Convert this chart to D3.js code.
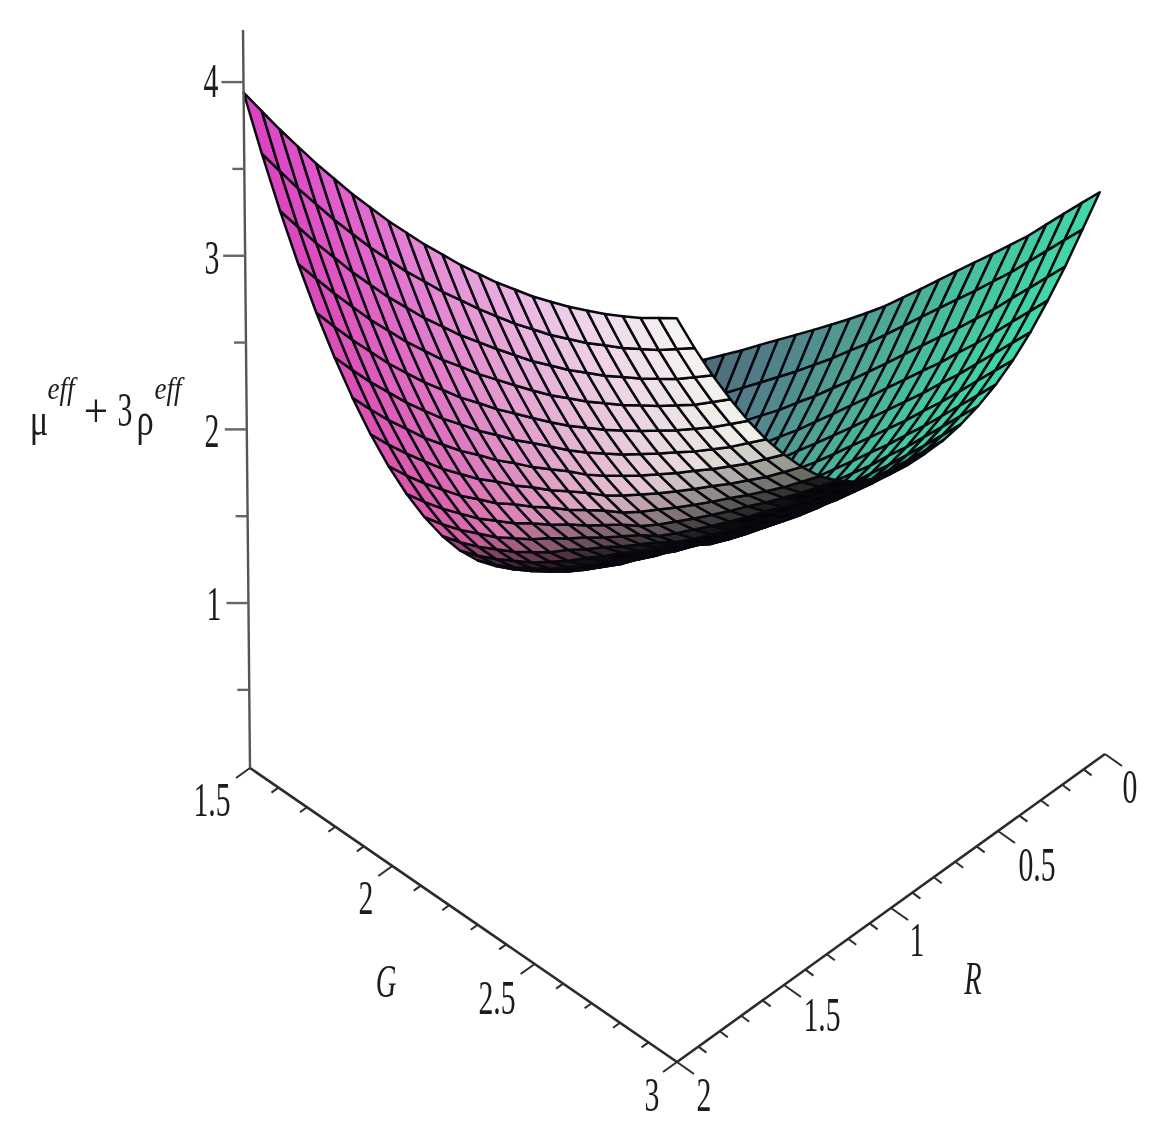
<!DOCTYPE html>
<html><head><meta charset="utf-8">
<script src="https://cdn.jsdelivr.net/npm/d3@7"></script>
<style>html,body{margin:0;background:#fff}svg{display:block;filter:blur(.55px)}text{font-family:"Liberation Serif",serif;fill:#1c1c1c}</style>
</head><body><svg id="c" width="1164" height="1148"></svg>
<script>
// Axis ranges and tick labels
const gDomain=[1.5,3], rDomain=[2,0], zDomain=[0.05,4.3];
const gMajor=[1.5,2,2.5,3], rMajor=[2,1.5,1,0.5,0], zMajor=[1,2,3,4], zMinor=[0.5,1.5,2.5,3.5];
const gMinor=[1.6,1.7,1.8,1.9,2.1,2.2,2.3,2.4,2.6,2.7,2.8,2.9];
const rMinor=[1.9,1.8,1.7,1.6,1.4,1.3,1.2,1.1,0.9,0.8,0.7,0.6,0.4,0.3,0.2,0.1];
// Surface heights: rows G = 1.5..3 (25 lines), columns R = 0..2 (25 lines)
const surfaceZ=[
[.867,.941,1.015,1.100,1.186,1.281,1.376,1.479,1.583,1.697,1.811,1.935,2.060,2.193,2.326,2.467,2.609,2.760,2.912,3.074,3.236,3.407,3.579,3.759,3.939],
[.765,.834,.902,.982,1.061,1.151,1.238,1.335,1.432,1.539,1.645,1.761,1.878,2.002,2.124,2.257,2.388,2.531,2.674,2.828,2.982,3.146,3.311,3.484,3.658],
[.679,.742,.806,.881,.956,1.039,1.120,1.211,1.301,1.400,1.499,1.608,1.717,1.831,1.944,2.068,2.190,2.325,2.459,2.605,2.751,2.909,3.066,3.233,3.399],
[.611,.669,.728,.798,.868,.946,1.022,1.106,1.190,1.282,1.374,1.475,1.579,1.685,1.791,1.908,2.021,2.147,2.272,2.410,2.547,2.696,2.846,3.005,3.164],
[.558,.613,.668,.734,.799,.872,.943,1.020,1.098,1.183,1.269,1.363,1.461,1.561,1.660,1.769,1.874,1.992,2.109,2.237,2.366,2.508,2.649,2.800,2.954],
[.522,.574,.626,.687,.748,.817,.883,.954,1.026,1.105,1.185,1.272,1.367,1.461,1.553,1.655,1.754,1.864,1.971,2.090,2.211,2.344,2.477,2.620,2.768],
[.505,.553,.601,.659,.717,.781,.842,.909,.975,1.048,1.121,1.202,1.295,1.381,1.467,1.564,1.655,1.758,1.856,1.967,2.079,2.204,2.329,2.464,2.605],
[.504,.549,.594,.649,.703,.764,.820,.881,.943,1.010,1.078,1.153,1.242,1.324,1.404,1.496,1.580,1.676,1.765,1.867,1.971,2.088,2.206,2.332,2.466],
[.521,.563,.606,.657,.709,.765,.818,.874,.932,.994,1.056,1.125,1.211,1.287,1.363,1.449,1.527,1.616,1.696,1.792,1.887,1.996,2.106,2.225,2.353],
[.567,.605,.644,.689,.736,.788,.835,.887,.939,.996,1.053,1.118,1.201,1.272,1.343,1.424,1.495,1.577,1.651,1.739,1.826,1.928,2.031,2.143,2.264],
[.630,.665,.699,.740,.782,.828,.871,.919,.967,1.020,1.073,1.131,1.211,1.277,1.344,1.419,1.486,1.562,1.629,1.709,1.789,1.884,1.979,2.085,2.201],
[.716,.746,.775,.811,.847,.889,.926,.970,1.015,1.063,1.112,1.166,1.241,1.302,1.363,1.433,1.494,1.565,1.625,1.700,1.775,1.864,1.953,2.052,2.162],
[.820,.845,.870,.901,.931,.968,1.000,1.041,1.082,1.126,1.171,1.221,1.292,1.348,1.405,1.470,1.525,1.590,1.646,1.715,1.784,1.868,1.952,2.045,2.149],
[.939,.960,.981,1.007,1.033,1.067,1.094,1.132,1.170,1.211,1.251,1.297,1.363,1.415,1.466,1.526,1.576,1.637,1.689,1.753,1.818,1.896,1.976,2.064,2.162],
[1.076,1.093,1.111,1.132,1.154,1.183,1.207,1.243,1.278,1.315,1.352,1.394,1.454,1.501,1.547,1.603,1.649,1.705,1.753,1.813,1.874,1.948,2.024,2.108,2.201],
[1.220,1.235,1.251,1.271,1.291,1.318,1.340,1.373,1.404,1.439,1.473,1.513,1.566,1.609,1.650,1.700,1.741,1.794,1.839,1.897,1.954,2.025,2.097,2.177,2.265],
[1.382,1.396,1.411,1.429,1.446,1.471,1.491,1.521,1.552,1.584,1.616,1.651,1.698,1.737,1.773,1.819,1.857,1.907,1.950,2.005,2.060,2.128,2.197,2.274,2.357],
[1.559,1.574,1.588,1.604,1.619,1.644,1.662,1.691,1.719,1.749,1.778,1.811,1.852,1.887,1.919,1.962,1.997,2.044,2.085,2.138,2.191,2.257,2.322,2.396,2.474],
[1.752,1.766,1.780,1.795,1.810,1.833,1.852,1.879,1.905,1.933,1.960,1.991,2.029,2.061,2.091,2.130,2.163,2.207,2.248,2.298,2.349,2.412,2.474,2.545,2.619],
[1.964,1.979,1.993,2.006,2.020,2.043,2.061,2.087,2.112,2.138,2.164,2.193,2.226,2.256,2.284,2.321,2.353,2.396,2.436,2.484,2.533,2.593,2.652,2.720,2.790],
[2.196,2.209,2.223,2.237,2.250,2.272,2.290,2.314,2.339,2.364,2.388,2.416,2.444,2.474,2.501,2.537,2.567,2.609,2.649,2.696,2.743,2.800,2.857,2.922,2.989],
[2.449,2.461,2.474,2.486,2.498,2.519,2.536,2.562,2.586,2.610,2.633,2.659,2.684,2.712,2.738,2.773,2.805,2.846,2.887,2.933,2.978,3.034,3.089,3.152,3.214],
[2.715,2.728,2.740,2.753,2.764,2.784,2.803,2.828,2.852,2.875,2.898,2.923,2.947,2.976,3.004,3.040,3.072,3.114,3.155,3.199,3.243,3.296,3.348,3.409,3.468],
[2.999,3.013,3.025,3.037,3.048,3.070,3.090,3.115,3.139,3.162,3.184,3.207,3.231,3.263,3.292,3.329,3.365,3.407,3.449,3.492,3.535,3.585,3.635,3.692,3.750],
[3.285,3.298,3.310,3.320,3.330,3.352,3.373,3.398,3.422,3.445,3.468,3.492,3.517,3.552,3.590,3.632,3.675,3.720,3.765,3.810,3.853,3.901,3.949,4.004,4.058]
];

const svg=d3.select("#c");
// Oblique projection built from linear scales: each data axis contributes an x and y offset
const gx=d3.scaleLinear().domain(gDomain).range([0,427]), gy=d3.scaleLinear().domain(gDomain).range([0,294]);
const rx=d3.scaleLinear().domain(rDomain).range([0,428]), ry=d3.scaleLinear().domain(rDomain).range([0,-308]);
const zx=d3.scaleLinear().domain(zDomain).range([0,-7]),  zy=d3.scaleLinear().domain(zDomain).range([0,-738]);
const P=(g,r,z)=>[250+gx(g)+rx(r)+zx(z), 768+gy(g)+ry(r)+zy(z)];
const gIdx=d3.scaleLinear().domain([0,surfaceZ.length-1]).range(gDomain);
const rIdx=d3.scaleLinear().domain([0,surfaceZ[0].length-1]).range([0,2]);

// Colours
const magTop=d3.scaleLinear().domain([0,.5,1,1.5,2]).range(["#f8f5f3","#efcfe9","#e79adb","#e264d0","#dc3fc4"]).interpolate(d3.interpolateRgb);
const magLow=d3.scaleLinear().domain([0,.5,1,1.5,2]).range(["#e2eed2","#e0e0cc","#dcc0bc","#da8cac","#da5ca0"]).interpolate(d3.interpolateRgb);
const tealTop=d3.scaleLinear().domain([0,.5,1,1.5,2]).range(["#3fd8a6","#46c4a0","#4fa596","#51808a","#4f5f6c"]).interpolate(d3.interpolateRgb);
const prog=d3.scaleLinear().domain([1.5,2.25]).range([0,1]).clamp(true);
const shade=d3.scaleLinear().domain([3,18]).range([.02,1]).clamp(true);

// Surface cells, painted far (large G) to near
const cells=[];
for(let i=surfaceZ.length-2;i>=0;i--)for(let j=surfaceZ[0].length-2;j>=0;j--){
  const q=[[i,j],[i,j+1],[i+1,j+1],[i+1,j]].map(([a,b])=>P(gIdx(a),rIdx(b),surfaceZ[a][b]));
  const dy=((q[3][1]-q[0][1])+(q[2][1]-q[1][1]))/2;
  const R=rIdx(j+.5),G=gIdx(i+.5);
  const base=dy>0?d3.interpolateRgb(magTop(R),magLow(R))(prog(G)):tealTop(R);
  cells.push({q,fill:d3.interpolateRgb("#000",base)(shade(Math.abs(dy)))});
}
svg.append("g").selectAll("path").data(cells).join("path")
  .attr("d",d=>d3.line()(d.q)+"Z").attr("fill",d=>d.fill)
  .attr("stroke","#08080f").attr("stroke-width",2.5).attr("stroke-linejoin","round");

// Axes
const ax=svg.append("g").attr("stroke","#2b2b2b").attr("fill","none");
const seg=(a,b,w,c)=>ax.append("path").attr("d",d3.line()([a,b])).attr("stroke-width",w).attr("stroke",c||"#2b2b2b");
const gP=g=>[250+gx(g),768+gy(g)], rP=r=>[677+rx(r),1062+ry(r)], zP=z=>[250+zx(z),768+zy(z)];
seg(gP(1.5),gP(3),2.6); seg(rP(2),rP(0),2.6); seg(zP(.05),zP(4.3),2.4,"#555");
gMajor.forEach(g=>{const p=gP(g);seg(p,[p[0]-14,p[1]+10],2)});
gMinor.forEach(g=>{const p=gP(g);seg(p,[p[0]-7,p[1]+5],2)});
rMajor.forEach(r=>{const p=rP(r);seg(p,[p[0]+17,p[1]+12],2)});
rMinor.forEach(r=>{const p=rP(r);seg(p,[p[0]+8,p[1]+6],2)});
zMajor.forEach(z=>{const p=zP(z);seg(p,[p[0]-22,p[1]],2.4,"#666")});
zMinor.forEach(z=>{const p=zP(z);seg(p,[p[0]-12,p[1]],2.4,"#666")});

// Text
const label=(s,x,y,fs,sx,it)=>svg.append("text").text(s)
  .attr("transform",`translate(${x},${y}) scale(${sx},1)`).attr("text-anchor","middle").attr("dy",".33em")
  .attr("font-size",fs).attr("font-style",it?"italic":"normal");
const zLabels=["1","2","3","4"], gLabels=["1.5","2","2.5","3"], rLabels=["2","1.5","1","0.5","0"];
const zLabPos=[[214,604],[212,431],[212,258],[211,81]];
const gLabPos=[[212,800],[366,898],[497,998],[652,1095]];
const rLabPos=[[704,1095],[822,1015],[917,940],[1037,865],[1130,787]];
zLabels.forEach((s,i)=>label(s,...zLabPos[i],48,.62));
gLabels.forEach((s,i)=>label(s,...gLabPos[i],48,.62));
rLabels.forEach((s,i)=>label(s,...rLabPos[i],48,.62));
label("G",386,982,46,.62,true);
label("R",973,979,46,.62,true);
const titleParts=[["μ",39,420,46,.75,false],["eff",61,388,32,.85,true],["+",96,411,48,.9,false],["3",125,410,48,.62,false],["ρ",145,420,46,.75,false],["eff",168,388,32,.85,true]];
titleParts.forEach(t=>label(...t));
</script></body></html>
